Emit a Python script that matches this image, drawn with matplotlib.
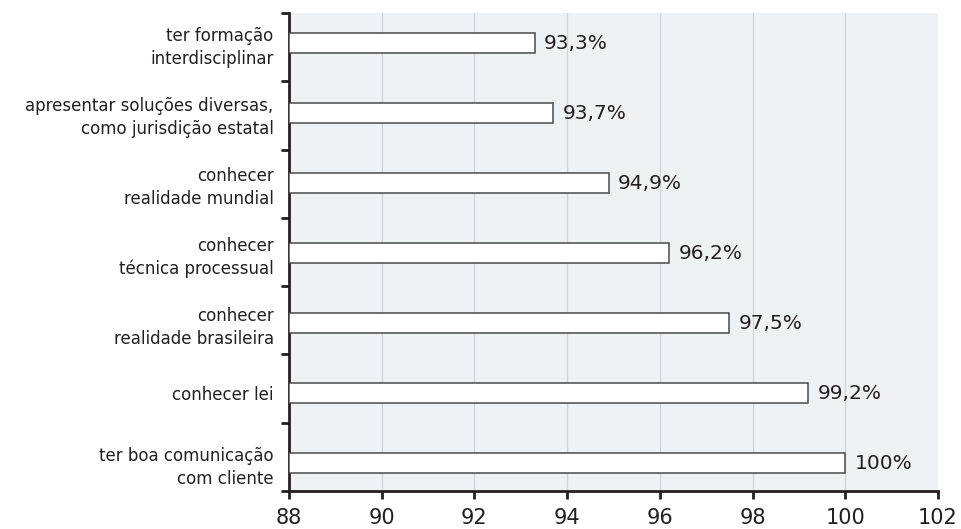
import numpy as np
import matplotlib.pyplot as plt

categories = [
    "ter formação\ninterdisciplinar",
    "apresentar soluções diversas,\ncomo jurisdição estatal",
    "conhecer\nrealidade mundial",
    "conhecer\ntécnica processual",
    "conhecer\nrealidade brasileira",
    "conhecer lei",
    "ter boa comunicação\ncom cliente",
]
values = [93.3, 93.7, 94.9, 96.2, 97.5, 99.2, 100.0]
value_labels = ["93,3%", "93,7%", "94,9%", "96,2%", "97,5%", "99,2%", "100%"]
x_ticks = [88, 90, 92, 94, 96, 98, 100, 102]

plt.rcParams['font.family'] = ['DejaVu Sans']
text_color = '#231f20'

fig = plt.figure(figsize=(9.62, 5.29), dpi=100)
ax = fig.add_axes([0.3004, 0.0718, 0.6746, 0.9036])
ax.set_facecolor('#f0f1f3')

ypos = np.arange(len(categories))
x0 = x_ticks[0]
bars = ax.barh(ypos, np.array(values) - x0, left=x0, height=0.28,
               color='white', edgecolor='#4a4a4a', linewidth=1.1, zorder=3)

for y, v, lab in zip(ypos, values, value_labels):
    ax.text(v + 0.2, y, lab, va='center', ha='left', fontsize=14.5,
            color=text_color, zorder=4)

ylim_top, ylim_bot = -0.43, 6.4
ax.set_ylim(ylim_bot, ylim_top)
ax.set_xlim(x_ticks[0], x_ticks[-1])

ax.set_yticks(ypos)
ax.set_yticklabels(categories, fontsize=12, color=text_color, linespacing=1.35)
ax.set_yticks(np.linspace(ylim_top, ylim_bot, len(categories) + 1), minor=True)
ax.tick_params(axis='y', which='major', length=0, pad=11)
ax.tick_params(axis='y', which='minor', length=6, width=2, color='#231f20', direction='out')

ax.set_xticks(x_ticks)
ax.set_xticklabels([str(t) for t in x_ticks], fontsize=15, color=text_color)
ax.tick_params(axis='x', length=6, width=2, color='#231f20', direction='out', pad=6)

for t in x_ticks[1:-1]:
    ax.axvline(t, color='#d4d5d8', linewidth=1, zorder=1)

for s in ['top', 'right']:
    ax.spines[s].set_visible(False)
for s in ['left', 'bottom']:
    ax.spines[s].set_linewidth(2)
    ax.spines[s].set_color('#231f20')

plt.savefig('out.png', dpi=100)
